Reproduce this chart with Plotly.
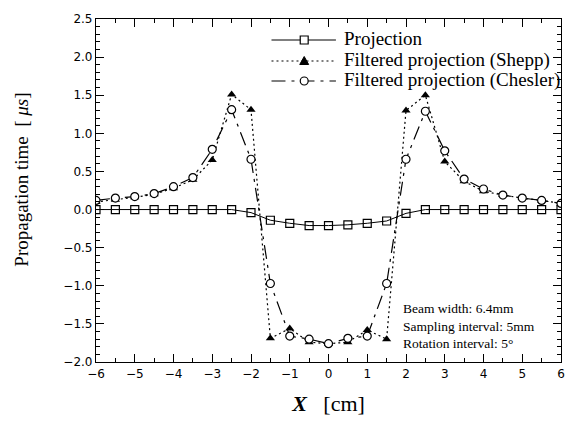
import plotly.graph_objects as go

x = [-6, -5.5, -5, -4.5, -4, -3.5, -3, -2.5, -2, -1.5, -1, -0.5, 0,
     0.5, 1, 1.5, 2, 2.5, 3, 3.5, 4, 4.5, 5, 5.5, 6]
projection = [0, 0, 0, 0, 0, 0, 0, 0, -0.04, -0.14, -0.18, -0.21, -0.21,
              -0.20, -0.18, -0.15, -0.05, 0, 0, 0, 0, 0, 0, 0, 0]
shepp = [0.10, 0.13, 0.16, 0.20, 0.28, 0.39, 0.65, 1.51, 1.31, -1.69, -1.56, -1.74, -1.76,
         -1.74, -1.58, -1.70, 1.30, 1.50, 0.63, 0.37, 0.24, 0.19, 0.15, 0.12, 0.08]
chesler = [0.12, 0.15, 0.17, 0.21, 0.30, 0.42, 0.79, 1.31, 0.66, -0.97, -1.66, -1.70, -1.76,
           -1.69, -1.66, -0.97, 0.66, 1.29, 0.77, 0.40, 0.27, 0.19, 0.15, 0.12, 0.08]
series_names = ["Projection", "Filtered projection (Shepp)", "Filtered projection (Chesler)"]
note_lines = ["Beam width: 6.4mm", "Sampling interval: 5mm", "Rotation interval: 5°"]

serif = "Times New Roman, Liberation Serif, serif"
sans = "DejaVu Sans, sans-serif"

W, H = 569, 430
ML, MR, MT, MB = 96, 4, 19, 68
PW, PH = W - ML - MR, H - MT - MB

def px(v):
    return (v - ML) / PW

def py(v):
    return (H - MB - v) / PH

dash_shepp = "2px,3px"
dash_chesler = "14px,6px,3px,6px"

fig = go.Figure()
fig.add_trace(go.Scatter(
    x=x, y=projection, name=series_names[0], mode="lines+markers", showlegend=False,
    line=dict(color="black", width=1),
    marker=dict(symbol="square-open", size=8, color="black", line=dict(width=1.2))))
fig.add_trace(go.Scatter(
    x=x, y=shepp, name=series_names[1], mode="lines+markers", showlegend=False,
    line=dict(color="black", width=1.2, dash=dash_shepp),
    marker=dict(symbol="triangle-up", size=8, color="black")))
fig.add_trace(go.Scatter(
    x=x, y=chesler, name=series_names[2], mode="lines+markers", showlegend=False,
    line=dict(color="black", width=1.2, dash=dash_chesler),
    marker=dict(symbol="circle", size=8, color="white", line=dict(width=1.2, color="black"))))

axis_common = dict(
    showline=True, linecolor="black", linewidth=1.2, mirror="ticks",
    ticks="inside", ticklen=8, tickwidth=1, tickcolor="black",
    showgrid=False, zeroline=False,
    tickfont=dict(family=sans, size=12, color="black"),
)
fig.update_xaxes(range=[-6, 6], dtick=1, tick0=-6,
                 minor=dict(dtick=0.5, ticks="inside", ticklen=4, tickcolor="black"),
                 title=dict(text="<b><i>X</i></b>   [cm]", font=dict(family=serif, size=22, color="black"),
                            standoff=16),
                 **axis_common)
fig.update_yaxes(range=[-2.0, 2.5], dtick=0.5, tick0=0, tickformat=".1f",
                 minor=dict(dtick=0.1, ticks="inside", ticklen=4, tickcolor="black"),
                 **axis_common)

# y-axis title
fig.add_annotation(xref="paper", yref="paper", x=px(20), y=py(180),
                   xanchor="center", yanchor="middle", showarrow=False, textangle=-90,
                   text="Propagation time  [ <i>μs</i>]",
                   font=dict(family=serif, size=19, color="black"))

# custom legend
rows = [40, 61, 81]
x0, x1, xm = 273, 338, 306
dashes = ["solid", dash_shepp, dash_chesler]
for i, (name, ry, d) in enumerate(zip(series_names, rows, dashes)):
    fig.add_shape(type="line", xref="paper", yref="paper",
                  x0=px(x0), x1=px(x1), y0=py(ry), y1=py(ry),
                  line=dict(color="black", width=1.2 if i else 1, dash=d))
    fig.add_annotation(xref="paper", yref="paper", x=px(344), y=py(ry - 1),
                       xanchor="left", yanchor="middle", showarrow=False, text=name,
                       font=dict(family=serif, size=19, color="black"))
# legend markers
fig.add_shape(type="rect", xref="paper", yref="paper",
              x0=px(xm - 4), x1=px(xm + 4), y0=py(rows[0] - 4), y1=py(rows[0] + 4),
              line=dict(color="black", width=1.2), fillcolor="white")
fig.add_shape(type="path", xref="paper", yref="paper",
              path=f"M {px(xm - 4.5)} {py(rows[1] + 3.5)} L {px(xm + 4.5)} {py(rows[1] + 3.5)} L {px(xm)} {py(rows[1] - 4.5)} Z",
              line=dict(color="black", width=1), fillcolor="black")
fig.add_shape(type="circle", xref="paper", yref="paper",
              x0=px(xm - 4), x1=px(xm + 4), y0=py(rows[2] - 4), y1=py(rows[2] + 4),
              line=dict(color="black", width=1.2), fillcolor="white")

fig.add_annotation(xref="paper", yref="paper", x=px(404), y=py(326),
                   xanchor="left", yanchor="middle", showarrow=False, align="left",
                   text="<br>".join(note_lines),
                   font=dict(family=serif, size=13.5, color="black"))

fig.update_layout(
    width=W, height=H,
    margin=dict(l=ML, r=MR, t=MT, b=MB),
    paper_bgcolor="white", plot_bgcolor="white",
    showlegend=False,
)

fig.write_html("out.html")
